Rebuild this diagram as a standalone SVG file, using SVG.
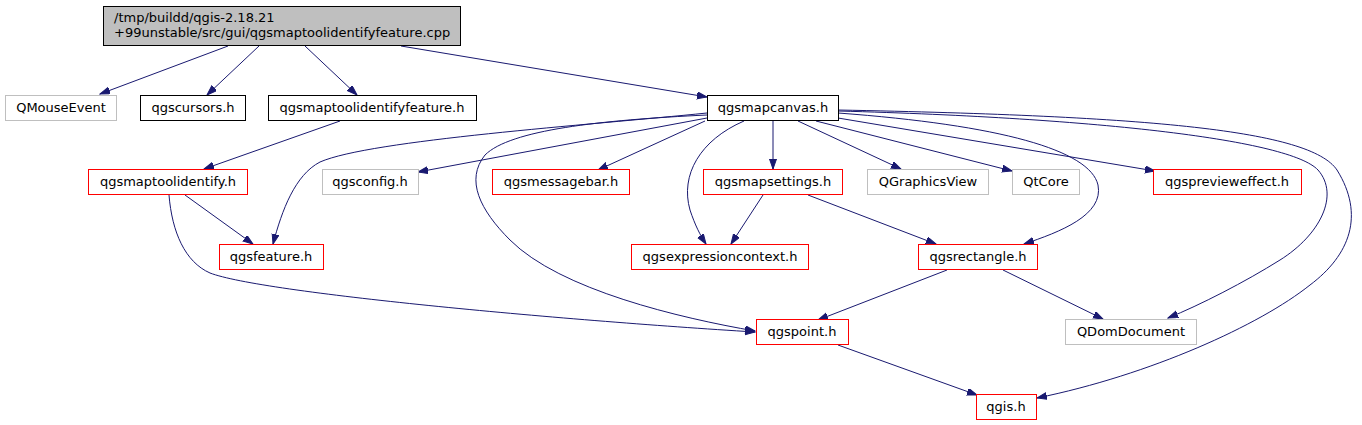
<svg xmlns="http://www.w3.org/2000/svg" width="1362" height="425" viewBox="0 0 1362 425">
<style>
.n rect{fill:#ffffff;stroke-width:1}
.blk rect{stroke:#000000}
.red rect{stroke:#ff0000}
.gry rect{stroke:#bfbfbf}
.top rect{fill:#bfbfbf;stroke:#000000}
text{font-family:"DejaVu Sans",sans-serif;font-size:13px;fill:#000000;text-anchor:middle}
.top text{text-anchor:start}
#edges path{fill:none;stroke:#191970;stroke-width:1;marker-end:url(#ah)}
</style>
<defs>
<marker id="ah" markerUnits="userSpaceOnUse" markerWidth="11" markerHeight="8" refX="10" refY="3.5" orient="auto">
<path d="M0,0 L10,3.5 L0,7 z" fill="#191970" stroke="#191970"/>
</marker>
</defs>
<rect width="1362" height="425" fill="#ffffff"/>
<g id="edges">
<path d="M228,46 L100,94"/>
<path d="M259,46 L207,95"/>
<path d="M305,46 L357,95"/>
<path d="M401,46 L707,97"/>
<path d="M340,121 L204,169"/>
<path d="M185,195 L253,244"/>
<path d="M169,195 C172,232 185,262 210,273 C262,293 560,320 755,332"/>
<path d="M707,113 C590,125 370,140 320,162 C295,175 282,210 273,244"/>
<path d="M707,118 L418,172"/>
<path d="M707,115 C600,120 510,130 485,155 C465,180 480,210 510,240 C560,290 680,318 755,331"/>
<path d="M705,121 L598,170"/>
<path d="M744,121 C700,140 680,175 690,210 C695,225 700,235 706,244"/>
<path d="M773,121 L773,169"/>
<path d="M798,121 L901,169"/>
<path d="M816,121 L1012,171"/>
<path d="M838,118 L1155,171"/>
<path d="M838,113 C1000,125 1090,150 1098,185 C1104,215 1060,232 1024,244"/>
<path d="M838,111 C1100,118 1290,140 1318,170 C1340,195 1320,235 1280,260 C1245,282 1200,305 1168,318"/>
<path d="M838,110 C1150,116 1310,130 1337,170 C1365,215 1350,255 1310,285 C1260,325 1150,375 1037,398"/>
<path d="M763,195 L731,244"/>
<path d="M808,195 L936,244"/>
<path d="M947,270 L818,320"/>
<path d="M1003,270 L1103,319"/>
<path d="M838,345 L977,395"/>
</g>
<g id="n_top" class="n top"><rect x="103.5" y="6.5" width="357" height="39"/><text x="114" y="22">/tmp/buildd/qgis-2.18.21</text><text x="114" y="37">+99unstable/src/gui/qgsmaptoolidentifyfeature.cpp</text></g>
<g id="n_qmouseevent" class="n gry"><rect x="5.5" y="95.5" width="111" height="25"/><text x="61" y="112">QMouseEvent</text></g>
<g id="n_qgscursors" class="n blk"><rect x="140.5" y="95.5" width="105" height="25"/><text x="193" y="112">qgscursors.h</text></g>
<g id="n_qgsmaptoolidentifyfeature" class="n blk"><rect x="268.5" y="95.5" width="208" height="25"/><text x="372" y="112">qgsmaptoolidentifyfeature.h</text></g>
<g id="n_qgsmapcanvas" class="n blk"><rect x="707.5" y="95.5" width="131" height="25"/><text x="773" y="112">qgsmapcanvas.h</text></g>
<g id="n_qgsmaptoolidentify" class="n red"><rect x="88.5" y="169.5" width="159" height="25"/><text x="168" y="186">qgsmaptoolidentify.h</text></g>
<g id="n_qgsconfig" class="n gry"><rect x="322.5" y="169.5" width="96" height="25"/><text x="370" y="186">qgsconfig.h</text></g>
<g id="n_qgsmessagebar" class="n red"><rect x="492.5" y="169.5" width="137" height="25"/><text x="561" y="186">qgsmessagebar.h</text></g>
<g id="n_qgsmapsettings" class="n red"><rect x="703.5" y="169.5" width="139" height="25"/><text x="773" y="186">qgsmapsettings.h</text></g>
<g id="n_qgraphicsview" class="n gry"><rect x="867.5" y="169.5" width="121" height="25"/><text x="928" y="186">QGraphicsView</text></g>
<g id="n_qtcore" class="n gry"><rect x="1012.5" y="169.5" width="67" height="25"/><text x="1046" y="186">QtCore</text></g>
<g id="n_qgspreviewffect" class="n red"><rect x="1153.5" y="169.5" width="148" height="25"/><text x="1227" y="186">qgspreview&#x65;ffect.h</text></g>
<g id="n_qgsfeature" class="n red"><rect x="219.5" y="244.5" width="104" height="25"/><text x="271" y="261">qgsfeature.h</text></g>
<g id="n_qgsexpressioncontext" class="n red"><rect x="631.5" y="244.5" width="177" height="25"/><text x="720" y="261">qgsexpressioncontext.h</text></g>
<g id="n_qgsrectangle" class="n red"><rect x="918.5" y="244.5" width="119" height="25"/><text x="978" y="261">qgsrectangle.h</text></g>
<g id="n_qgspoint" class="n red"><rect x="756.5" y="319.5" width="92" height="25"/><text x="802" y="336">qgspoint.h</text></g>
<g id="n_qdomdocument" class="n gry"><rect x="1065.5" y="319.5" width="131" height="25"/><text x="1131" y="336">QDomDocument</text></g>
<g id="n_qgis" class="n red"><rect x="976.5" y="394.5" width="60" height="25"/><text x="1006" y="411">qgis.h</text></g>
</svg>
